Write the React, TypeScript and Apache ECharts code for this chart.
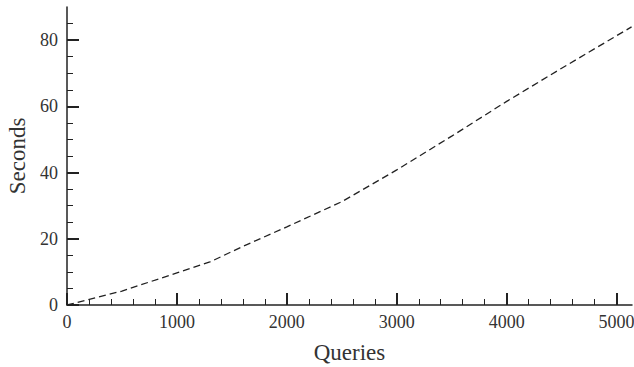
import React, { useEffect, useRef } from "react";
import * as echarts from "echarts";

const queries = [0, 500, 1000, 1300, 1600, 2000, 2500, 3000, 3500, 4000, 4500, 5136];
const seconds = [0, 4.2, 9.7, 13, 17.7, 23.6, 31.2, 40.8, 51, 61.5, 71.5, 84];

const xMajorTicks = [0, 1000, 2000, 3000, 4000, 5000];
const xMinorTicks = [
  200, 400, 600, 800, 1200, 1400, 1600, 1800, 2200, 2400, 2600, 2800,
  3200, 3400, 3600, 3800, 4200, 4400, 4600, 4800,
];
const yMajorTicks = [0, 20, 40, 60, 80];
const yMinorTicks = [5, 10, 15, 25, 30, 35, 45, 50, 55, 65, 70, 75, 85];

const X_MAX = 5140;
const Y_MAX = 90;
const INK = "#222";
const TEXT = "#333";
const FONT = "Liberation Serif";

export default function App() {
  const ref = useRef<HTMLDivElement>(null);
  useEffect(() => {
    if (!ref.current) return;
    const chart = echarts.init(ref.current, null, { renderer: "svg" });
    const baseX = {
      type: "value",
      min: 0,
      max: X_MAX,
      position: "bottom",
      splitLine: { show: false },
    };
    const baseY = {
      type: "value",
      min: 0,
      max: Y_MAX,
      position: "left",
      splitLine: { show: false },
    };
    chart.setOption({
      animation: false,
      grid: {
        left: 67,
        right: 2,
        top: 7,
        bottom: 62,
        containLabel: false,
        outerBoundsMode: "none",
      },
      xAxis: [
        {
          ...baseX,
          name: "Queries",
          nameLocation: "middle",
          nameGap: 36,
          nameTextStyle: { fontFamily: FONT, fontSize: 23, color: TEXT },
          axisLine: { show: true, lineStyle: { color: INK, width: 1.5 } },
          axisTick: {
            show: true,
            inside: true,
            length: 12,
            customValues: xMajorTicks,
            lineStyle: { color: INK, width: 2 },
          },
          axisLabel: {
            show: true,
            customValues: xMajorTicks,
            formatter: (v: number) => String(v),
            margin: 8,
            fontFamily: FONT,
            fontSize: 18,
            color: TEXT,
          },
        },
        {
          ...baseX,
          axisLine: { show: false },
          axisTick: {
            show: true,
            inside: true,
            length: 6,
            customValues: xMinorTicks,
            lineStyle: { color: INK, width: 1 },
          },
          axisLabel: { show: false },
        },
      ],
      yAxis: [
        {
          ...baseY,
          name: "Seconds",
          nameLocation: "middle",
          nameGap: 34,
          nameTextStyle: { fontFamily: FONT, fontSize: 23, color: TEXT },
          axisLine: { show: true, lineStyle: { color: INK, width: 1.5 } },
          axisTick: {
            show: true,
            inside: true,
            length: 12,
            customValues: yMajorTicks,
            lineStyle: { color: INK, width: 2 },
          },
          axisLabel: {
            show: true,
            customValues: yMajorTicks,
            formatter: (v: number) => String(v),
            margin: 9,
            fontFamily: FONT,
            fontSize: 18,
            color: TEXT,
          },
        },
        {
          ...baseY,
          axisLine: { show: false },
          axisTick: {
            show: true,
            inside: true,
            length: 6,
            customValues: yMinorTicks,
            lineStyle: { color: INK, width: 1 },
          },
          axisLabel: { show: false },
        },
      ],
      series: [
        {
          type: "line",
          xAxisIndex: 0,
          yAxisIndex: 0,
          data: queries.map((q, i) => [q, seconds[i]]),
          showSymbol: false,
          symbol: "none",
          lineStyle: { color: INK, width: 1.3, type: [7, 4] },
        },
      ],
    });
    return () => chart.dispose();
  }, []);
  return (
    <div
      ref={ref}
      style={{ position: "fixed", left: 0, top: 0, width: 634, height: 367, background: "#fff" }}
    />
  );
}
